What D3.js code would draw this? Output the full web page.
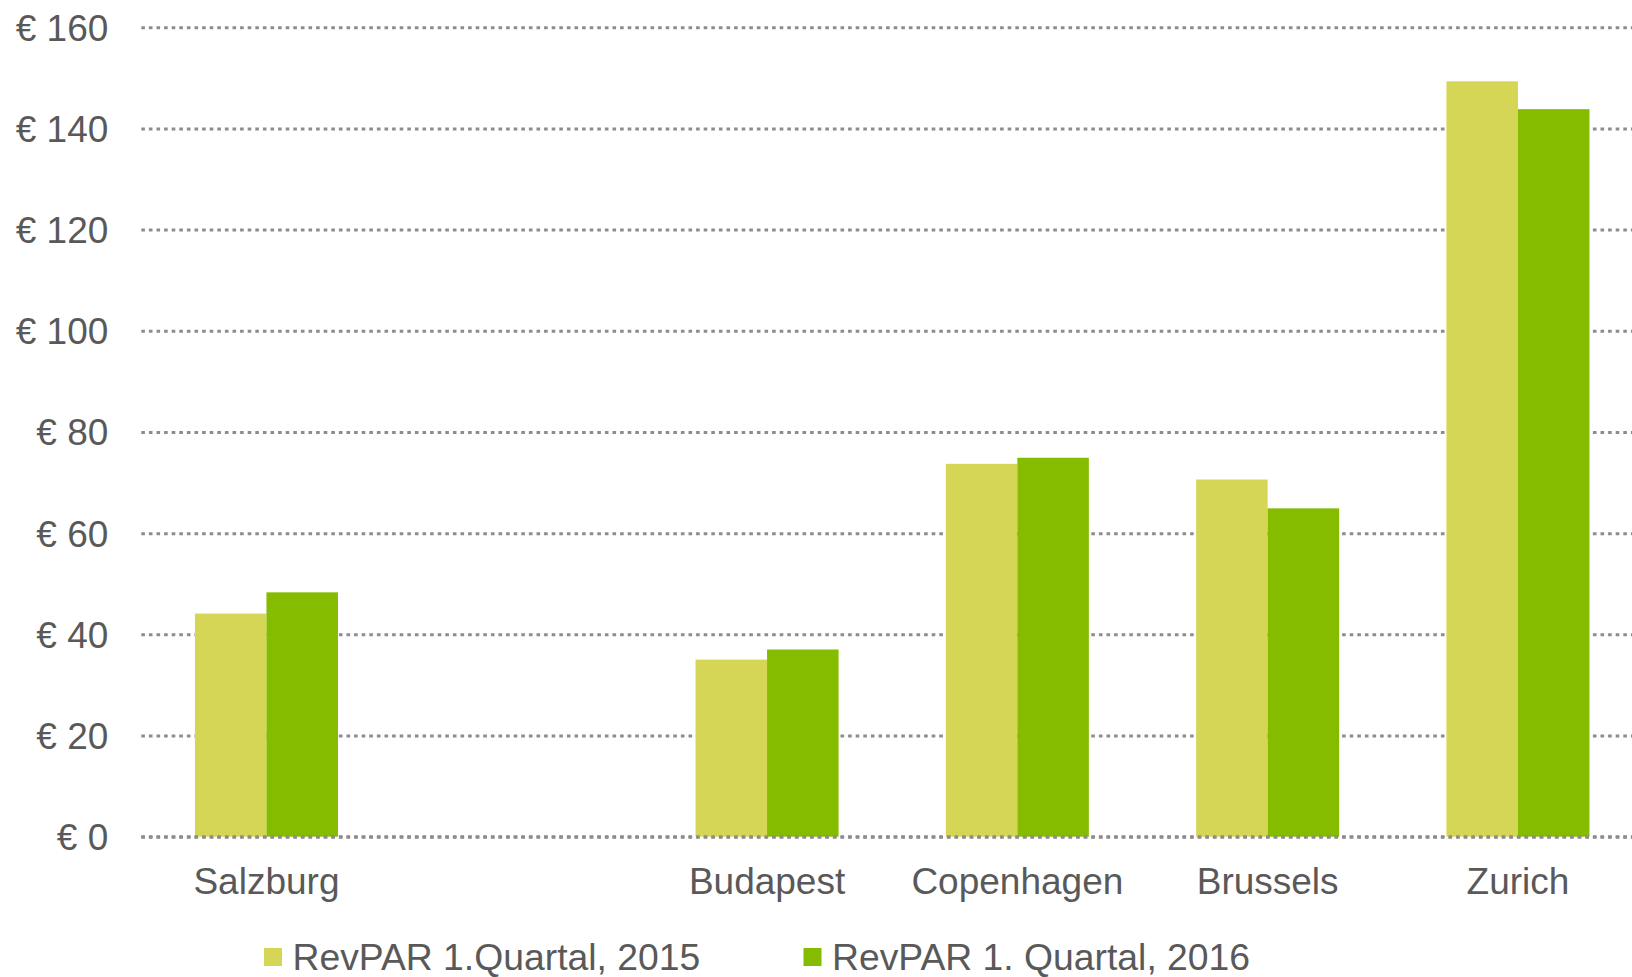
<!DOCTYPE html>
<html>
<head>
<meta charset="utf-8">
<script src="https://cdn.jsdelivr.net/npm/d3@7"></script>
<style>
  body { margin: 0; background: #fff; }
  .chart text { font-family: "Liberation Sans", Arial, sans-serif; fill: #595959; }
</style>
</head>
<body>
<div class="chart"></div>
<script>
// data
const categories = ["Salzburg", "", "Budapest", "Copenhagen", "Brussels", "Zurich"];
const seriesNames = ["RevPAR 1.Quartal, 2015", "RevPAR 1. Quartal, 2016"];
const values2015 = [44.1, null, 35.0, 73.7, 70.6, 149.3];
const values2016 = [48.3, null, 37.0, 74.9, 64.9, 143.8];
const yTicks = [0, 20, 40, 60, 80, 100, 120, 140, 160];
const colors = ["#d6d656", "#85bc00"];

const w = 1632;
const h = 977;
const plotLeft = 141.3;
const step = 250.3;
const plotTop = 27.2;
const plotBottom = 836.7;

const svg = d3
  .select(".chart")
  .append("svg")
  .attr("width", w)
  .attr("height", h);

const x0 = d3
  .scaleBand()
  .domain(d3.range(categories.length))
  .range([plotLeft, plotLeft + step * categories.length])
  .paddingInner(0)
  .paddingOuter(0);

// two bars take 2/3.5 of each slot (gap = 1.5 bar widths)
const groupW = x0.bandwidth() * (2 / 3.5);
const x1 = d3
  .scaleBand()
  .domain([0, 1])
  .range([(x0.bandwidth() - groupW) / 2, (x0.bandwidth() + groupW) / 2]);

const y = d3.scaleLinear().domain([0, 160]).range([plotBottom, plotTop]);

// gridlines + y labels
const yAxis = d3
  .axisLeft(y)
  .tickValues(yTicks)
  .tickSize(-(w - plotLeft + 20))
  .tickPadding(33)
  .tickFormat((d) => "€ " + d);

const gy = svg
  .append("g")
  .attr("transform", "translate(" + plotLeft + ",0)")
  .call(yAxis);
gy.select(".domain").remove();
gy.selectAll(".tick line")
  .attr("stroke", "#8c8c8c")
  .attr("stroke-width", 3)
  .attr("stroke-dasharray", "3.6,4");
gy.selectAll(".tick text")
  .style("font-size", "37px")
  .attr("dy", "0.35em");

// bars
const rows = categories.map((c, i) => ({ i: i, vals: [values2015[i], values2016[i]] }));

const groups = svg
  .selectAll(".grp")
  .data(rows)
  .enter()
  .append("g")
  .attr("class", "grp")
  .attr("transform", (d) => "translate(" + x0(d.i) + ",0)");

groups
  .selectAll("rect")
  .data((d) => d.vals.map((v, s) => ({ s: s, v: v })).filter((e) => e.v != null))
  .enter()
  .append("rect")
  .attr("x", (d) => x1(d.s))
  .attr("width", x1.bandwidth())
  .attr("y", (d) => y(d.v))
  .attr("height", (d) => y(0) - y(d.v))
  .attr("fill", (d) => colors[d.s]);

// zero line sits on top of the bars
svg
  .append("line")
  .attr("x1", plotLeft)
  .attr("x2", w + 20)
  .attr("y1", y(0))
  .attr("y2", y(0))
  .attr("stroke", "#8c8c8c")
  .attr("stroke-width", 3)
  .attr("stroke-dasharray", "3.6,4");

// category labels
const xAxis = d3
  .axisBottom(x0)
  .tickSize(0)
  .tickPadding(31)
  .tickFormat((i) => categories[i]);

const gx = svg
  .append("g")
  .attr("transform", "translate(0," + plotBottom + ")")
  .call(xAxis);
gx.select(".domain").remove();
gx.selectAll(".tick text").style("font-size", "37px");

// legend
const legendX = [264, 803.5];
const legend = svg.append("g").attr("id", "legend");
seriesNames.forEach((name, s) => {
  legend
    .append("rect")
    .attr("x", legendX[s])
    .attr("y", 948)
    .attr("width", 18)
    .attr("height", 18)
    .attr("fill", colors[s]);
  legend
    .append("text")
    .attr("x", legendX[s] + 28.5)
    .attr("y", 970)
    .style("font-size", "37.3px")
    .text(name);
});
</script>
</body>
</html>
